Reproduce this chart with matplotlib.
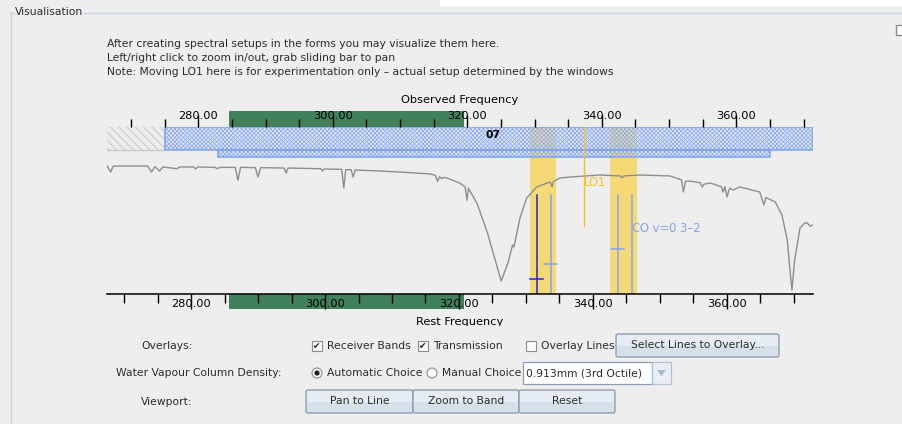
import numpy as np
import matplotlib.pyplot as plt
from matplotlib.patches import Rectangle, FancyBboxPatch, Circle, Polygon

plt.rcParams['font.family'] = ['DejaVu Sans']
plt.rcParams['hatch.linewidth'] = 0.6

# Atmospheric transmission (rest frequency in GHz, fraction)
trans_freq = [267.5, 268.0, 268.4, 273.5, 274.1, 274.6, 275.3, 275.8, 277.9, 278.3,
              280.4, 280.7, 281.0, 283.6, 283.9, 284.3, 286.6, 287.0, 287.4, 289.6,
              290.0, 290.4, 293.9, 294.2, 294.5, 299.4, 299.6, 299.9, 302.5, 302.8,
              303.1, 303.9, 304.2, 304.5, 308.2, 311.2, 315.7, 316.5, 316.8, 317.1,
              317.4, 317.7, 318.2, 320.1, 320.9, 321.2, 321.4, 322.7, 324.2, 325.1,
              326.3, 327.3, 328.0, 328.2, 329.1, 330.1, 331.6, 333.6, 333.9, 334.1,
              335.1, 336.6, 341.0, 344.1, 344.3, 344.6, 347.0, 351.5, 353.2, 353.5,
              353.8, 354.5, 356.0, 356.3, 356.6, 357.5, 359.2, 359.4, 359.7, 360.0,
              360.4, 360.9, 361.9, 364.9, 365.5, 365.8, 367.2, 368.2, 369.0, 369.4,
              369.7, 370.1, 370.9, 371.6, 372.0, 372.4, 372.8]
trans_val = [0.955, 0.910, 0.955, 0.955, 0.910, 0.950, 0.918, 0.948, 0.935, 0.948,
             0.948, 0.933, 0.948, 0.945, 0.935, 0.945, 0.945, 0.850, 0.945, 0.943,
             0.873, 0.943, 0.940, 0.903, 0.940, 0.935, 0.918, 0.933, 0.930, 0.791,
             0.928, 0.928, 0.873, 0.925, 0.918, 0.910, 0.896, 0.885, 0.840, 0.875,
             0.860, 0.870, 0.866, 0.828, 0.800, 0.700, 0.790, 0.675, 0.463, 0.306,
             0.097, 0.231, 0.366, 0.350, 0.567, 0.716, 0.799, 0.836, 0.800, 0.840,
             0.866, 0.873, 0.888, 0.881, 0.866, 0.881, 0.888, 0.881, 0.851, 0.761,
             0.840, 0.843, 0.830, 0.799, 0.820, 0.828, 0.800, 0.761, 0.800, 0.724,
             0.790, 0.776, 0.799, 0.761, 0.664, 0.720, 0.687, 0.590, 0.403, 0.179,
             0.030, 0.254, 0.493, 0.530, 0.530, 0.507, 0.515]

freq_range = (267.46, 372.84)
receiver_band = (285.7, 320.7)
blocked_band = (267.46, 276.1)
sideband_top = (276.1, 372.84)
sideband_bottom = (284.0, 366.4)
spw_bands = [(330.6, 334.5), (342.5, 346.6)]
lo1_freq = 338.66
lo1_bottom = 0.507
line_freqs = [331.64, 333.73, 343.73, 345.82]
line_marks = [0.112, 0.224, 0.336, None]
line_top = 0.739
line_dark = [True, False, False, False]
co_label = "CO v=0 3\u20132"
setup_label = "07"
setup_freq = 325.15
major_ticks = [280, 300, 320, 340, 360]
minor_ticks = list(range(270, 371, 5))
doppler = 1.0039  # rest / observed

BG = '#eeeeee'
GREEN = '#40805a'
YELLOW = '#f6d977'
HATCH_BLUE = '#8aabf2'
EDGE_BLUE = '#7ea2f2'
LIGHT_BLUE = '#84a4f0'
NAVY = '#2424c8'
LO_COL = '#f5c31c'
TXT = '#2b2b2b'
FS = 7.72

W, H = 902, 424
fig = plt.figure(figsize=(W / 100, H / 100), dpi=100, facecolor=BG)

# ---------- widget layer (pixel coordinates) ----------
ui = fig.add_axes([0, 0, 1, 1], zorder=0)
ui.set_xlim(0, W)
ui.set_ylim(H, 0)
ui.axis('off')

ui.add_patch(Rectangle((440, 0), W - 440, 6, facecolor='white', edgecolor='none'))
frame_col = '#c4d3e2'
ui.plot([10, 14], [12.5, 12.5], color=frame_col, lw=1)
ui.plot([84, W], [12.5, 12.5], color=frame_col, lw=1)
ui.plot([10.5, 10.5], [12.5, H], color=frame_col, lw=1)
ui.text(15, 12, "Visualisation", fontsize=FS, color=TXT, va='center', ha='left')
ui.add_patch(Rectangle((896, 25), 8, 10, facecolor='white', edgecolor='#8a8a8a', lw=1))

intro = ["After creating spectral setups in the forms you may visualize them here.",
         "Left/right click to zoom in/out, grab sliding bar to pan",
         "Note: Moving LO1 here is for experimentation only \u2013 actual setup determined by the windows"]
for i, line in enumerate(intro):
    ui.text(107, 44 + 14 * i, line, fontsize=FS, color=TXT, va='center', ha='left')

ui.text(460, 100, "Observed Frequency", fontsize=8.2, color='black', ha='center', va='center')
ui.text(460, 322, "Rest Frequency", fontsize=8.2, color='black', ha='center', va='center', zorder=2)
ui.add_patch(Rectangle((380, 326), 160, 8, facecolor=BG, edgecolor='none', zorder=3))


def checkbox(x, y, checked):
    ui.add_patch(Rectangle((x, y - 5), 10, 10, facecolor='#fafafa', edgecolor='#8c8c8c', lw=0.8))
    if checked:
        ui.text(x + 5, y + 0.5, "\u2714", fontsize=6.5, color='#222222', ha='center', va='center')


def radio(x, y, selected):
    ui.add_patch(Circle((x + 5, y), 5, facecolor='#fafafa', edgecolor='#8c8c8c', lw=0.8))
    if selected:
        ui.add_patch(Circle((x + 5, y), 2.6, facecolor='#222222', edgecolor='none'))


def button(x0, x1, y0, y1, label):
    ui.add_patch(FancyBboxPatch((x0, y0), x1 - x0, y1 - y0,
                                boxstyle='round,pad=0,rounding_size=2',
                                facecolor='#d6dfea', edgecolor='#8797ad', lw=0.9))
    ui.add_patch(Rectangle((x0 + 1, y0 + 1), x1 - x0 - 2, (y1 - y0) / 2 - 1,
                           facecolor='#e6ecf3', edgecolor='none'))
    ui.text((x0 + x1) / 2, (y0 + y1) / 2, label, fontsize=FS, color=TXT,
            ha='center', va='center')


ui.text(141, 346, "Overlays:", fontsize=FS, color=TXT, va='center')
checkbox(312, 346, True)
ui.text(327, 346, "Receiver Bands", fontsize=FS, color=TXT, va='center')
checkbox(418, 346, True)
ui.text(433, 346, "Transmission", fontsize=FS, color=TXT, va='center')
checkbox(526, 346, False)
ui.text(541, 346, "Overlay Lines", fontsize=FS, color=TXT, va='center')
button(616, 779, 334, 357, "Select Lines to Overlay...")

ui.text(116, 373, "Water Vapour Column Density:", fontsize=FS, color=TXT, va='center')
radio(312, 373, True)
ui.text(327, 373, "Automatic Choice", fontsize=FS, color=TXT, va='center')
radio(427, 373, False)
ui.text(442, 373, "Manual Choice", fontsize=FS, color=TXT, va='center')
ui.add_patch(Rectangle((523, 362), 129, 22, facecolor='white', edgecolor='#8d9cb0', lw=0.9))
ui.text(526, 373, "0.913mm (3rd Octile)", fontsize=FS, color=TXT, va='center')
ui.add_patch(Rectangle((652, 362), 19, 22, facecolor='#e9eef4', edgecolor='#b4c0ce', lw=0.9))
ui.add_patch(Polygon([(657, 370), (666, 370), (661.5, 376)], closed=True,
                     facecolor='#a9bad2', edgecolor='none'))

ui.text(141, 402, "Viewport:", fontsize=FS, color=TXT, va='center')
button(306, 413, 390, 413, "Pan to Line")
button(413, 519, 390, 413, "Zoom to Band")
button(519, 615, 390, 413, "Reset")

# ---------- spectral plot ----------
left, right, top, bottom = 107, 813, 127, 294
ax = fig.add_axes([left / W, 1 - bottom / H, (right - left) / W, (bottom - top) / H], zorder=1)
ax.patch.set_visible(False)
ymax = (bottom - top) / 134
ax.set_xlim(*freq_range)
ax.set_ylim(0, ymax)
for s in ['top', 'left', 'right']:
    ax.spines[s].set_visible(False)
ax.spines['bottom'].set_linewidth(1.1)
ax.set_yticks([])

row1 = (294 - 150) / 134
row2 = (294 - 157) / 134

# spectral windows
for f0, f1 in spw_bands:
    ax.axvspan(f0, f1, ymin=0, ymax=1, facecolor=YELLOW, edgecolor='none', zorder=0.5)

# blocked (hatched grey) region and sideband bars
ax.add_patch(Rectangle((blocked_band[0], row1), blocked_band[1] - blocked_band[0], ymax - row1,
                       facecolor='#ececec', edgecolor='#c2c2c2', hatch='\\\\\\\\',
                       lw=0, zorder=1))
ax.plot(blocked_band, [row1, row1], color='#c8c8c8', lw=1, zorder=1.1)
for (f0, f1), (y0, y1) in [(sideband_top, (row1, ymax)), (sideband_bottom, (row2, row1))]:
    ax.add_patch(Rectangle((f0, y0), f1 - f0, y1 - y0, facecolor=(0.85, 0.89, 0.99, 0.35),
                           edgecolor=HATCH_BLUE, hatch='xxxxxxxx', lw=0, zorder=1))
    ax.add_patch(Rectangle((f0, y0), f1 - f0, y1 - y0, facecolor='none',
                           edgecolor=EDGE_BLUE, lw=1.1, zorder=1.2))
ax.text(setup_freq, (294 - 135) / 134, setup_label, fontsize=7.8, fontweight='bold',
        color='black', ha='center', va='center', zorder=3)

# transmission curve
ax.plot(trans_freq, trans_val, color='#8e8e8e', lw=1, zorder=2)

# LO1 marker
ax.plot([lo1_freq, lo1_freq], [lo1_bottom, ymax], color=LO_COL, lw=1, zorder=2.2)
ax.text(lo1_freq + 0.05, (294 - 183) / 134, "LO1", fontsize=8.3, color=LO_COL,
        ha='left', va='center', zorder=3)

# molecular lines
for f, mark, dark in zip(line_freqs, line_marks, line_dark):
    col = NAVY if dark else LIGHT_BLUE
    ax.plot([f, f], [0, line_top], color=col, lw=1.1, zorder=2.3)
    if mark is not None:
        ax.plot([f - 0.97, f + 0.97], [mark, mark], color=col, lw=1.1, zorder=2.3)
ax.text(line_freqs[-1] + 0.05, (294 - 229) / 134, co_label, fontsize=8.3, color=LIGHT_BLUE,
        ha='left', va='center', zorder=3)

# receiver band bars along both frequency axes
band_w = receiver_band[1] - receiver_band[0]
ax.add_patch(Rectangle((receiver_band[0], -15 / 167), band_w, 15 / 167, facecolor=GREEN,
                       edgecolor='none', transform=ax.get_xaxis_transform(), clip_on=False,
                       zorder=0.5))
ax.add_patch(Rectangle((receiver_band[0], 1), band_w, 16 / 167, facecolor=GREEN,
                       edgecolor='none', transform=ax.get_xaxis_transform(), clip_on=False,
                       zorder=0.5))

# rest frequency axis (bottom)
ax.set_xticks(major_ticks)
ax.set_xticks([t for t in minor_ticks if t not in major_ticks], minor=True)
ax.set_xticklabels([f"{t:.2f}" for t in major_ticks])
ax.tick_params(axis='x', which='major', direction='out', length=10.8, width=1,
               pad=-7.2, labelsize=8.2, colors='black')
ax.tick_params(axis='x', which='minor', direction='out', length=6.5, width=1)

# observed frequency axis (top)
ax_top = ax.twiny()
ax_top.set_zorder(2)
ax_top.set_xlim(freq_range[0] / doppler, freq_range[1] / doppler)
for s in ax_top.spines.values():
    s.set_visible(False)
ax_top.set_yticks([])
ax_top.set_xticks(major_ticks)
ax_top.set_xticks([t for t in minor_ticks if t not in major_ticks], minor=True)
ax_top.set_xticklabels([f"{t:.2f}" for t in major_ticks])
ax_top.tick_params(axis='x', which='major', direction='out', length=8.6, width=1,
                   pad=-4.6, labelsize=8.2, colors='black')
ax_top.tick_params(axis='x', which='minor', direction='out', length=5.8, width=1)

fig.savefig("out.png", dpi=100, facecolor=BG)
